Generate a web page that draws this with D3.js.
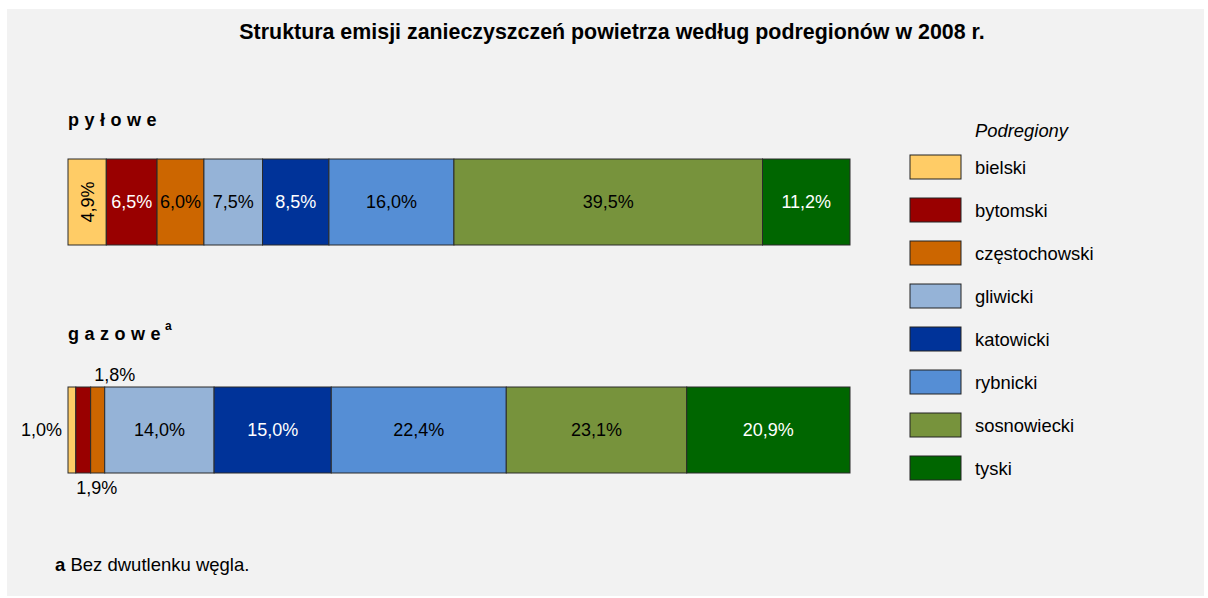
<!DOCTYPE html>
<html>
<head>
<meta charset="utf-8">
<script src="https://cdn.jsdelivr.net/npm/d3@7"></script>
<style>
  html, body { margin: 0; padding: 0; background: #ffffff; }
  svg { display: block; font-family: "Liberation Sans", Arial, sans-serif; }
</style>
</head>
<body>
<svg id="chart" width="1208" height="598"></svg>
<script>
// ---- data ----
const title = "Struktura emisji zanieczyszczeń powietrza według podregionów w 2008 r.";
const regions = ["bielski", "bytomski", "częstochowski", "gliwicki", "katowicki", "rybnicki", "sosnowiecki", "tyski"];
const colors = ["#FFCC66", "#990000", "#CC6600", "#95B3D7", "#003399", "#558ED5", "#77933C", "#006600"];
const labelColors = ["#000", "#fff", "#000", "#000", "#fff", "#000", "#000", "#fff"];
const seriesNames = ["pyłowe", "gazowe"];
const pylowe = [4.9, 6.5, 6.0, 7.5, 8.5, 16.0, 39.5, 11.2];
const gazowe = [1.0, 1.9, 1.8, 14.0, 15.0, 22.4, 23.1, 20.9];
const legendTitle = "Podregiony";
const footnoteMark = "a";
const footnoteText = " Bez dwutlenku węgla.";

const svg = d3.select("#chart");
svg.append("rect").attr("x", 7).attr("y", 9).attr("width", 1197).attr("height", 587).attr("fill", "#F2F2F2");

svg.append("text").attr("x", 612).attr("y", 39).attr("text-anchor", "middle")
  .attr("font-size", 21.4).attr("font-weight", "bold").text(title);

const fmt = v => d3.format(".1f")(v).replace(".", ",") + "%";

const y = d3.scaleBand().domain(seriesNames).range([159, 473]).paddingInner(142 / 228).paddingOuter(0);
const allSeries = [pylowe, gazowe];

allSeries.forEach((vals, si) => {
  const name = seriesNames[si];
  const x = d3.scaleLinear().domain([0, d3.sum(vals)]).range([68, 850]);
  const cum = d3.cumsum(vals);
  const segs = vals.map((v, i) => ({ v, i, x0: x(cum[i] - v), x1: x(cum[i]) }));
  const g = svg.append("g");
  const y0 = y(name), h = y.bandwidth();

  g.selectAll("rect").data(segs).join("rect")
    .attr("x", d => d.x0).attr("y", y0)
    .attr("width", d => d.x1 - d.x0).attr("height", h)
    .attr("fill", d => colors[d.i]).attr("stroke", "#2a2a2a").attr("stroke-width", 1);

  // series title
  const t = svg.append("text").attr("x", 68).attr("y", y0 - (si === 0 ? 33 : 47))
    .attr("font-size", 18).attr("font-weight", "bold").attr("letter-spacing", "5.5px").text(name);
  if (si === 1) {
    t.append("tspan").attr("font-size", 12).attr("dy", -10).attr("dx", -1).attr("letter-spacing", "0px").text("a");
  }

  const cy = y0 + h / 2;
  segs.forEach(d => {
    const w = d.x1 - d.x0;
    const cx = (d.x0 + d.x1) / 2;
    if (si === 0 && w < 45) {
      g.append("text").attr("transform", `translate(${cx + 1},${cy}) rotate(-90)`)
        .attr("text-anchor", "middle").attr("dominant-baseline", "central")
        .attr("font-size", 18).attr("fill", labelColors[d.i]).text(fmt(d.v));
    } else if (si === 1 && w < 20) {
      let tx, ty, anchor = "middle";
      if (d.i === 0) { tx = d.x0 - 6; ty = cy; anchor = "end"; }
      else if (d.i === 1) { tx = d.x1 + 6; ty = y0 + h + 15; }
      else { tx = d.x1 + 10; ty = y0 - 12; }
      g.append("text").attr("x", tx).attr("y", ty).attr("text-anchor", anchor)
        .attr("dominant-baseline", "central").attr("font-size", 18).attr("fill", "#000").text(fmt(d.v));
    } else {
      g.append("text").attr("x", cx).attr("y", cy).attr("text-anchor", "middle")
        .attr("dominant-baseline", "central").attr("font-size", 18)
        .attr("fill", labelColors[d.i]).text(fmt(d.v));
    }
  });
});

// legend
svg.append("text").attr("x", 975).attr("y", 137).attr("font-size", 18.4).attr("font-style", "italic").text(legendTitle);
const ly = d3.scaleBand().domain(regions).range([155, 155 + 43 * 7 + 24]).paddingInner(19 / 43).paddingOuter(0);
const lg = svg.append("g").selectAll("g").data(regions).join("g");
lg.append("rect").attr("x", 910).attr("y", d => ly(d)).attr("width", 51).attr("height", ly.bandwidth())
  .attr("fill", (d, i) => colors[i]).attr("stroke", "#222").attr("stroke-width", 1);
lg.append("text").attr("x", 975).attr("y", d => ly(d) + ly.bandwidth() / 2).attr("dominant-baseline", "central")
  .attr("font-size", 18.4).text(d => d);

// footnote
const fn = svg.append("text").attr("x", 55).attr("y", 571).attr("font-size", 18.5);
fn.append("tspan").attr("font-weight", "bold").text(footnoteMark);
fn.append("tspan").text(footnoteText);
</script>
</body>
</html>
